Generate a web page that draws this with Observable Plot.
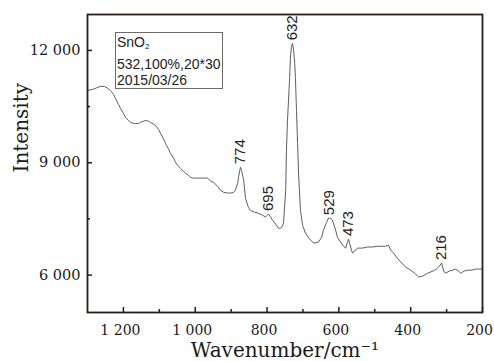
<!DOCTYPE html>
<html>
<head>
<meta charset="utf-8">
<script src="https://cdn.jsdelivr.net/npm/d3@7"></script>
<script src="https://cdn.jsdelivr.net/npm/@observablehq/plot@0.6"></script>
<style>
  html, body { margin: 0; padding: 0; background: #fff; }
  #wrap { position: relative; width: 494px; height: 361px; }
  #legend { position: absolute; left: 115px; top: 32px; width: 108px; height: 57px; box-sizing: border-box;
    border: 1px solid #6a6a6a; font-family: "Liberation Sans", Arial, sans-serif; font-size: 14px; color: #222; }
  #legend span { position: absolute; left: 1px; line-height: 14px; white-space: nowrap; }
  #legend sub { font-size: 8px; vertical-align: -2px; line-height: 0; }
</style>
</head>
<body>
<div id="wrap"></div>
<script>
const wavenumber = [1300,1286,1272,1264,1253,1244,1236,1228,1222,1214,1208,1200,1194,1186,1180,1172,1166,1158,1152,1144,1138,1130,1125,1116,1111,1102,1097,1088,1083,1074,1069,1060,1055,1047,1041,1033,1027,1019,1013,1005,999,991,985,977,966,957,949,938,930,921,910,902,893,888,882,879,874,871,865,860,852,846,835,824,813,804,796,790,785,776,768,762,757,754,748,746,743,737,735,732,729,726,723,721,718,715,712,707,701,693,684,670,657,648,643,634,629,623,618,609,604,595,587,581,576,573,570,565,562,556,548,534,520,506,492,478,470,462,456,448,437,428,414,400,389,378,367,353,345,333,325,320,314,308,303,292,283,275,267,261,250,242,231,220,211,200];
const intensity = [10930,10960,11010,11040,11040,10990,10930,10830,10720,10560,10450,10320,10210,10130,10080,10050,10050,10050,10080,10110,10130,10110,10080,10030,10000,9890,9790,9630,9520,9360,9250,9120,9010,8910,8850,8770,8720,8670,8610,8590,8590,8590,8590,8590,8590,8510,8480,8370,8270,8210,8190,8190,8210,8270,8450,8640,8880,8800,8530,8050,7810,7730,7680,7650,7600,7550,7630,7550,7470,7360,7250,7250,7310,7410,8270,9330,10130,11280,11790,12110,12190,12000,11680,11280,10400,9520,8670,7730,7330,7120,6990,6850,6880,7010,7200,7410,7520,7520,7470,7200,7010,6880,6770,6720,6880,6960,6850,6670,6590,6640,6720,6720,6750,6750,6770,6770,6770,6800,6670,6590,6450,6350,6210,6130,6050,5950,5970,6050,6080,6130,6190,6240,6320,6110,6050,6110,6130,6160,6110,6050,6110,6130,6130,6160,6160,6160];

const peakLabels = ["774", "695", "632", "529", "473", "216"];
const peakWavenumber = [874, 796, 729, 626, 573, 314];
const peakIntensity = [8880, 7630, 12190, 7520, 6960, 6320];

const xMajor = [1200, 1000, 800, 600, 400, 200];
const xMinor = [1100, 900, 700, 500, 300];
const yMajor = [6000, 9000, 12000];
const yMinor = [7500, 10500];

const spectrum = wavenumber.map((w, i) => ({w, v: intensity[i]}));
const peaks = peakLabels.map((t, i) => ({t, w: peakWavenumber[i], v: peakIntensity[i]}));
const fmt = d => d3.format(",")(d).replace(/,/g, " ");

const ink = "#2a1c18";
const serif = "DejaVu Serif";

const chart = Plot.plot({
  width: 494, height: 361,
  marginTop: 14, marginBottom: 49, marginLeft: 87, marginRight: 12,
  x: {domain: [1300, 200]},
  y: {domain: [5000, 12960]},
  style: {fontFamily: serif, fontSize: "14.5px", color: "#1a1a1a", background: "#fff"},
  marks: [
    Plot.line(spectrum, {x: "w", y: "v", stroke: "#5e5e5e", strokeWidth: 1}),
    Plot.text(peaks, {x: "w", y: "v", text: "t", rotate: -90, textAnchor: "start", lineAnchor: "middle",
      dy: -3, fontFamily: "Liberation Sans", fontSize: 15, fill: "#222"}),
    Plot.frame({stroke: ink, strokeWidth: 1.8}),
    Plot.axisX({ticks: xMajor, tickSize: -5, text: null, label: null, stroke: ink, strokeWidth: 1.5}),
    Plot.axisX({ticks: xMinor, tickSize: -3, text: null, label: null, stroke: ink, strokeWidth: 1.5}),
    Plot.axisX({ticks: xMajor, tickSize: 0, tickPadding: 13, tickFormat: fmt, label: null, dx: -3, fontSize: 14}),
    Plot.axisY({ticks: yMajor, tickSize: -5, text: null, label: null, stroke: ink, strokeWidth: 1.5}),
    Plot.axisY({ticks: yMinor, tickSize: -3, text: null, label: null, stroke: ink, strokeWidth: 1.5}),
    Plot.axisY({ticks: yMajor, tickSize: 0, tickPadding: 7, tickFormat: fmt, label: null}),
    Plot.text(["Wavenumber/cm\u207B\u00B9"], {frameAnchor: "bottom", dy: 38, lineAnchor: "middle",
      fontFamily: serif, fontSize: 20, fill: "#1a1a1a"}),
    Plot.text(["Intensity"], {frameAnchor: "left", dx: -66, dy: 9, rotate: -90, lineAnchor: "middle",
      fontFamily: serif, fontSize: 20, fill: "#1a1a1a"})
  ]
});

const wrap = document.getElementById("wrap");
wrap.appendChild(chart);
const legend = document.createElement("div");
legend.id = "legend";
legend.innerHTML = '<span style="top:2px">SnO<sub>2</sub></span>' +
  '<span style="top:24px">532,100%,20*30</span>' +
  '<span style="top:40px">2015/03/26</span>';
wrap.appendChild(legend);
</script>
</body>
</html>
